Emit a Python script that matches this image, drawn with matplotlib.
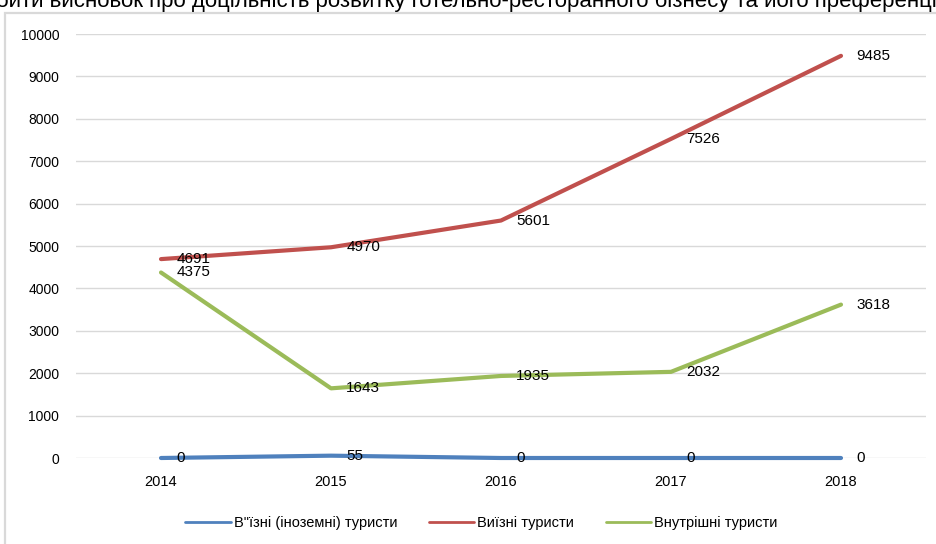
import matplotlib.pyplot as plt
from matplotlib.patches import Rectangle

plt.rcParams['font.family'] = ['Liberation Sans', 'DejaVu Sans']

# chart data
years = ['2014', '2015', '2016', '2017', '2018']
inbound = [0, 55, 0, 0, 0]
outbound = [4691, 4970, 5601, 7526, 9485]
domestic = [4375, 1643, 1935, 2032, 3618]
series_names = ['В"їзні (іноземні) туристи', 'Виїзні туристи', 'Внутрішні туристи']
series_colors = ['#4F81BD', '#C0504D', '#9BBB59']
y_ticks = [0, 1000, 2000, 3000, 4000, 5000, 6000, 7000, 8000, 9000, 10000]

fig = plt.figure(figsize=(9.37, 5.44), dpi=100)

# clipped line of document text above the chart
fig.text(-0.004, 1 - 7 / 544, 'бити висновок про доцільність розвитку готельно-ресторанного бізнесу та його преференції',
         fontsize=16, va='baseline', ha='left', color='black')

# chart frame
frame = Rectangle((5 / 937, -0.1), 1.1, 1 - 13 / 544 + 0.1, transform=fig.transFigure,
                  fill=False, edgecolor='#D9D9D9', linewidth=1.6, clip_on=False)
fig.patches.append(frame)

ax = fig.add_axes([76 / 937, 1 - 458 / 544, 850 / 937, 424 / 544])
x = list(range(len(years)))

for values, name, color in zip([inbound, outbound, domestic], series_names, series_colors):
    ax.plot(x, values, color=color, linewidth=3, label=name, solid_capstyle='round',
            zorder=3, clip_on=False)
    for xi, v in zip(x, values):
        ax.annotate(str(v), (xi, v), xytext=(11, 0), textcoords='offset points',
                    ha='left', va='center', fontsize=11, color='black', zorder=4)

ax.set_xlim(-0.5, 4.5)
ax.set_ylim(0, 10000)
ax.set_yticks(y_ticks)
ax.set_yticklabels([str(t) for t in y_ticks])
ax.set_xticks(x)
ax.set_xticklabels(years)
ax.grid(axis='y', color='#D9D9D9', linewidth=1)
ax.set_axisbelow(True)
for side in ['top', 'right', 'left', 'bottom']:
    ax.spines[side].set_visible(False)
ax.tick_params(axis='both', length=0, labelsize=10, colors='black')
ax.tick_params(axis='x', labelsize=10.5, pad=12)
ax.tick_params(axis='y', pad=12)

leg = fig.legend(loc='center', bbox_to_anchor=(0.514, 1 - 523 / 544), ncol=3, frameon=False,
                 fontsize=10.5, handlelength=3.1, handletextpad=0.2, columnspacing=2.2)
for line in leg.get_lines():
    line.set_linewidth(2)

fig.savefig('out.png', dpi=100)
